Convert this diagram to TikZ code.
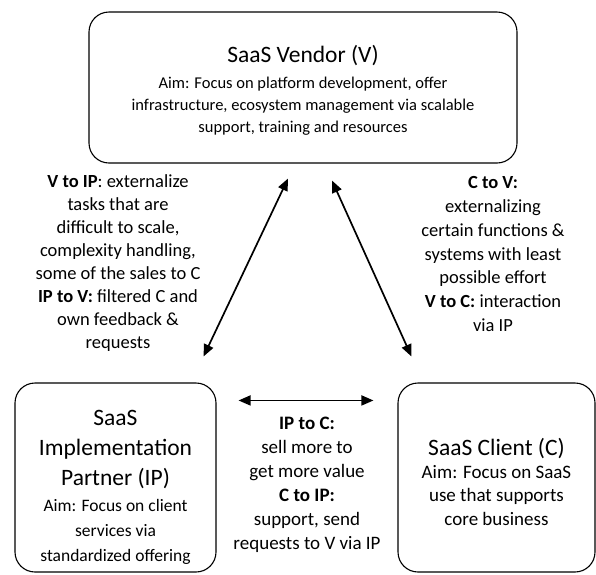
\documentclass[tikz,border=0pt]{standalone}
\usepackage{fontspec}
\setmainfont{Carlito}
\usepackage{tikz}
\usetikzlibrary{arrows.meta}

\newcommand{\fs}[2]{\fontsize{#1}{#2}\selectfont}
\newcommand{\ttl}{\fs{23.5}{29}}

\begin{document}
\begin{tikzpicture}[x=1pt,y=-1pt]
\tikzstyle{every node} = [align = center]
\tikzstyle{actor} = [draw, rounded corners = 20pt, line width = 1.1pt, inner sep = 0pt]
\tikzstyle{flow} = [line width = 1.7pt, {Triangle[length=12pt,width=10pt]}-{Triangle[length=12pt,width=10pt]}]
\useasboundingbox (0,0) rectangle (596,574);

		% the three actors
		\node [actor, font = \fs{16.5}{22}, minimum width = 428pt, minimum height = 151pt] (V) at (303,87.5)
			{\ttl\rule{0pt}{23pt}SaaS Vendor (V)\\[4pt] Aim: Focus on platform development, offer\\ infrastructure, ecosystem management via scalable\\ support, training and resources};
		\node [actor, font = \fs{17.5}{25}, minimum width = 201pt, minimum height = 189pt] (IP) at (115.5,477.5)
			{\ttl\rule{0pt}{34pt}SaaS\\[5pt] \ttl Implementation\\[5pt] \ttl Partner (IP)\\[1pt] Aim: Focus on client\\ services via\\ standardized offering};
		\node [actor, font = \fs{19}{23.5}, minimum width = 197pt, minimum height = 189pt] (C) at (496.5,477.5)
			{\ttl\rule{0pt}{26pt}SaaS Client (C)\\[-1pt] Aim: Focus on SaaS\\ use that supports\\ core business};

		% what flows between them
		\node [font = \fs{18.5}{23}] (VIP) at (118,263)
			{\textbf{V to IP}: externalize\\ tasks that are\\ difficult to scale,\\ complexity handling,\\ some of the sales to C\\ \textbf{IP to V:} filtered C and\\ own feedback \&\\ requests};
		\node [font = \fs{18.5}{23.7}] (CV) at (493,254)
			{\textbf{C to V:}\\ externalizing\\ certain functions \&\\ systems with least\\ possible effort\\ \textbf{V to C:} interaction\\ via IP};
		\node [font = \fs{19}{24}] (IPC) at (307,485)
			{\textbf{IP to C:}\\ sell more to\\ get more value\\ \textbf{C to IP:}\\ support, send\\ requests to V via IP};

		\draw [flow] ([shift={(-15pt,-15pt)}]V.south) -- ([shift={(-13pt,26pt)}]IP.north east);
		\draw [flow] ([shift={(29pt,-17pt)}]V.south) -- ([shift={(14pt,26pt)}]C.north west);
		\draw [flow] ([shift={(22pt,-18pt)}]IP.north east) -- ([shift={(-24pt,-18pt)}]C.north west);

\end{tikzpicture}
\end{document}
